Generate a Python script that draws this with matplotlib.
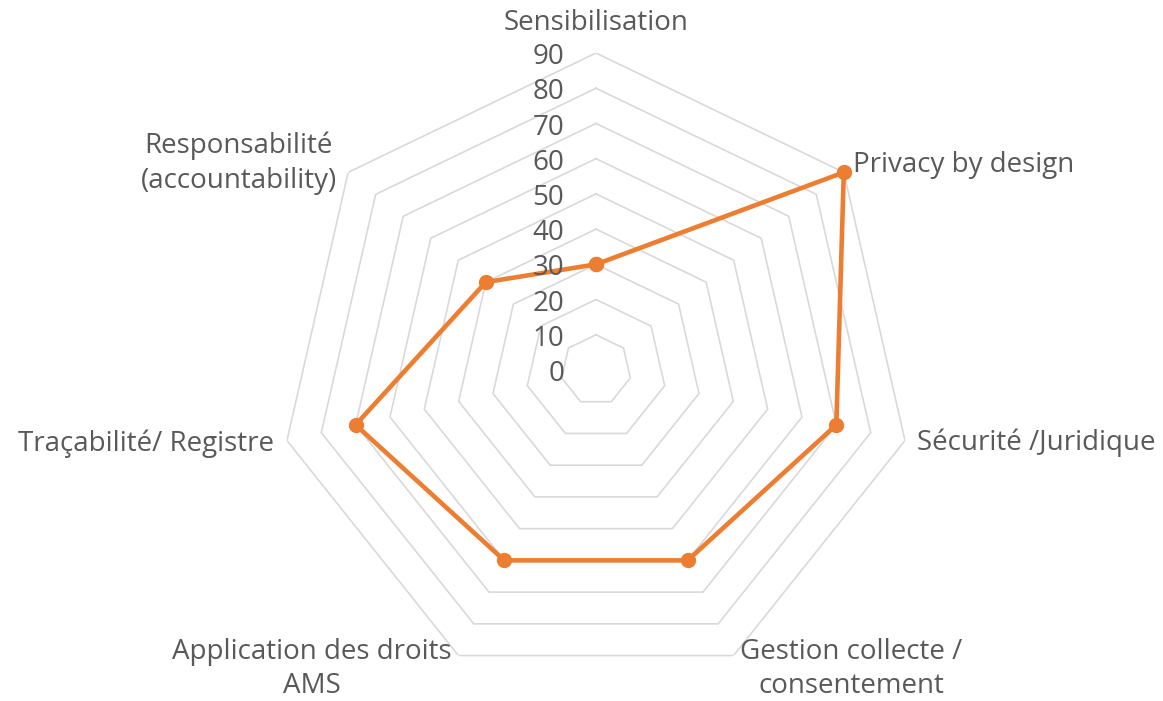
import numpy as np
import matplotlib
matplotlib.use('Agg')
import matplotlib.pyplot as plt
from matplotlib.transforms import offset_copy

# data
categories = ['Sensibilisation', 'Privacy by design', 'Sécurité /Juridique',
              'Gestion collecte /\nconsentement', 'Application des droits\nAMS',
              'Traçabilité/ Registre', 'Responsabilité\n(accountability)']
values = [30, 90, 70, 60, 60, 70, 40]
ring_levels = [10, 20, 30, 40, 50, 60, 70, 80, 90]
tick_labels = ['0', '10', '20', '30', '40', '50', '60', '70', '80', '90']

# label placement (angle shift in degrees, radius, ha, va)
label_style = [
    (0, 98.6, 'center', 'center'),
    (0, 93.3, 'left', 'center'),
    (0, 93.4, 'left', 'center'),
    (-2.5, 86.4, 'left', 'top'),
    (2.5, 86.4, 'right', 'top'),
    (0, 93.8, 'right', 'center'),
    (0, 94.1, 'right', 'center'),
]

text_color = '#595959'
grid_color = '#D9D9D9'
line_color = '#ED7D31'
plt.rcParams['font.family'] = ['Open Sans', 'DejaVu Sans']
fs = 20

n = len(categories)
angles = np.linspace(0, 2 * np.pi, n, endpoint=False)
closed = np.concatenate([angles, angles[:1]])

fig = plt.figure(figsize=(11.63, 7.01), dpi=100)
ax = fig.add_axes([0.2399, 0.0200, 0.5451, 0.9044], projection='polar')
ax.set_theta_offset(np.pi / 2)
ax.set_theta_direction(-1)
ax.set_ylim(0, 90)
ax.grid(False)
ax.spines['polar'].set_visible(False)
ax.set_xticks([])
ax.set_yticks([])
ax.patch.set_alpha(0)

# heptagon gridlines
for lvl in ring_levels:
    ax.plot(closed, [lvl] * (n + 1), color=grid_color, lw=1.2, zorder=1)

# series
vals = values + values[:1]
ax.plot(closed, vals, color=line_color, lw=3.3, marker='o', markersize=10,
        zorder=3, clip_on=False)

# value axis labels
tick_tr = offset_copy(ax.transData, fig=fig, x=-23, y=-3, units='points')
for i, t in enumerate(tick_labels):
    ax.text(0, i * 10, t, transform=tick_tr, ha='right', va='center',
            fontsize=fs, color=text_color)

# category labels
for ang, lab, (shift, r, ha, va) in zip(angles, categories, label_style):
    ax.text(ang + np.deg2rad(shift), r, lab, ha=ha, va=va, ma='center',
            fontsize=fs, color=text_color, linespacing=1.3)

fig.savefig('out.png', dpi=100, facecolor='white')
